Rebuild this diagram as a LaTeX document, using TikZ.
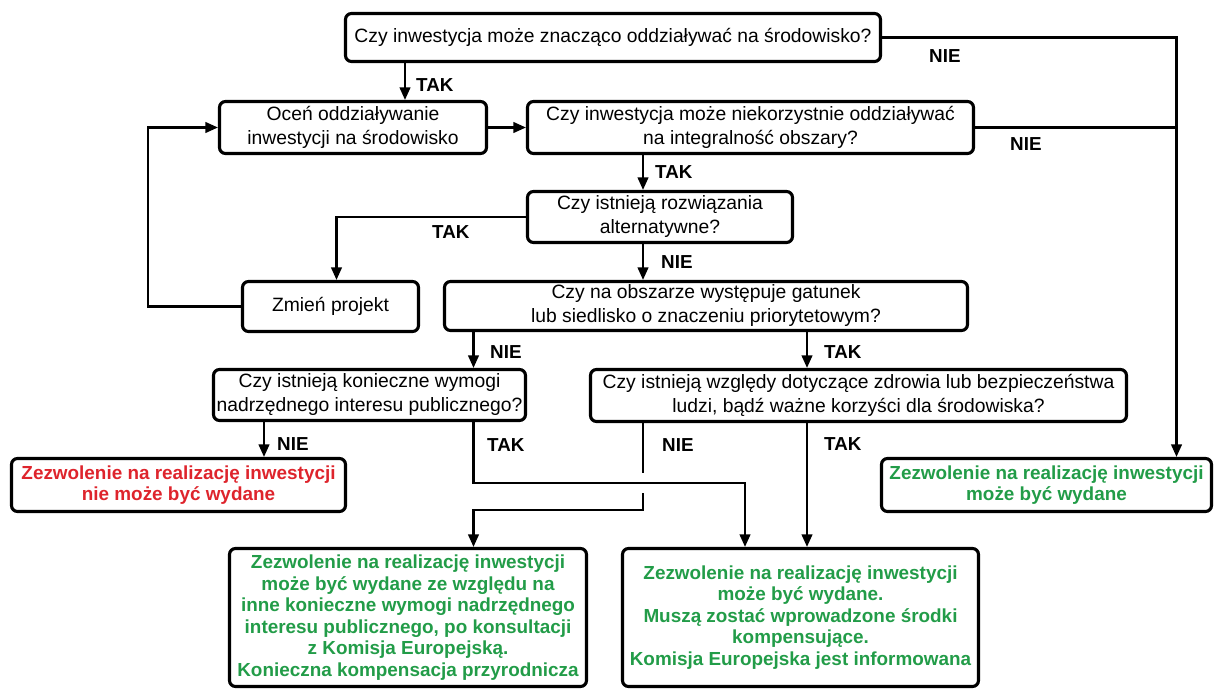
\documentclass[tikz,border=0pt]{standalone}
\usepackage{fontspec}
\setmainfont{Liberation Sans}
\usepackage{tikz}
\usetikzlibrary{arrows.meta}
\definecolor{nored}{RGB}{222,36,44}
\definecolor{okgreen}{RGB}{34,156,72}

\begin{document}
\begin{tikzpicture}[x=1pt,y=-1pt,
  box/.style={draw, line width=3.1pt, rounded corners=6pt, inner sep=0pt, align=center, font=\fontsize{19.3}{24}\selectfont},
  endbox/.style={box, font=\bfseries\fontsize{18.9}{21.5}\selectfont},
  lbl/.style={anchor=west, inner sep=0pt, font=\bfseries\fontsize{18.8}{21.5}\selectfont},
  line/.style={line width=2.3pt},
  arr/.style={line, -{Triangle[length=12.5pt,width=10.5pt]}}]
\useasboundingbox (0,0) rectangle (1215,691);

\node[box, minimum width=535, minimum height=48] (q1) at (613,37.5) {Czy inwestycja może znacząco oddziaływać na środowisko?};
\node[box, minimum width=267, minimum height=52] (ocen) at (353,127.5) {Oceń oddziaływanie\\inwestycji na środowisko};
\node[box, minimum width=446, minimum height=52] (q2) at (750.5,127.5) {Czy inwestycja może niekorzystnie oddziaływać\\na integralność obszary?};
\node[box, minimum width=265, minimum height=51] (q3) at (660,217) {Czy istnieją rozwiązania\\alternatywne?};
\node[box, minimum width=176, minimum height=50] (zmien) at (330.5,306.5) {Zmień projekt};
\node[box, minimum width=523, minimum height=49] (q4) at (706,306) {Czy na obszarze występuje gatunek\\lub siedlisko o znaczeniu priorytetowym?};
\node[box, minimum width=312, minimum height=51] (q5) at (369.5,395) {Czy istnieją konieczne wymogi\\nadrzędnego interesu publicznego?};
\node[box, minimum width=536, minimum height=52] (q6) at (858.5,395.5) {Czy istnieją względy dotyczące zdrowia lub bezpieczeństwa\\ludzi, bądź ważne korzyści dla środowiska?};
\node[endbox, text=nored, minimum width=334, minimum height=53] (nogo) at (178.5,485) {Zezwolenie na realizację inwestycji\\nie może być wydane};
\node[endbox, text=okgreen, minimum width=330, minimum height=53] (go) at (1046.5,485) {Zezwolenie na realizację inwestycji\\może być wydane};
\node[endbox, text=okgreen, minimum width=357, minimum height=138] (goleft) at (408,617.5) {Zezwolenie na realizację inwestycji\\może być wydane ze względu na\\inne konieczne wymogi nadrzędnego\\interesu publicznego, po konsultacji\\z Komisja Europejską.\\Konieczna kompensacja przyrodnicza};
\node[endbox, text=okgreen, minimum width=356, minimum height=138] (goright) at (800.5,617.5) {Zezwolenie na realizację inwestycji\\może być wydane.\\Muszą zostać wprowadzone środki\\kompensujące.\\Komisja Europejska jest informowana};

\coordinate (xa) at (405,0);
\coordinate (xb) at (643,0);
\coordinate (xc) at (336.5,0);
\coordinate (xd) at (473.5,0);
\coordinate (xe) at (807,0);
\coordinate (xf) at (745,0);
\coordinate (xg) at (264,0);
\coordinate (xr) at (1176.5,0);
\coordinate (xl) at (148,0);
\coordinate (h1) at (0,482.7);
\coordinate (h2) at (0,510);
\coordinate (hop1) at (643,473);
\coordinate (hop2) at (643,493);

\draw[arr] (xa |- q1.south) -- (xa |- ocen.north);
\draw[arr] (q1.east) -- (xr |- q1.east) -- (xr |- go.north);
\draw[line] (q2.east) -- (xr |- q2.east);
\draw[arr] (ocen.east) -- (q2.west);
\draw[arr] (xb |- q2.south) -- (xb |- q3.north);
\draw[arr] (q3.west) -- (xc |- q3.west) -- (xc |- zmien.north);
\draw[arr] (xb |- q3.south) -- (xb |- q4.north);
\draw[arr] (zmien.west) -- (xl |- zmien.west) -- (xl |- ocen.west) -- (ocen.west);
\draw[arr] (xd |- q4.south) -- (xd |- q5.north);
\draw[arr] (xe |- q4.south) -- (xe |- q6.north);
\draw[arr] (xg |- q5.south) -- (xg |- nogo.north);
\draw[arr] (xd |- q5.south) -- (xd |- h1) -- (xf |- h1) -- (xf |- goright.north);
\draw[line] (xb |- q6.south) -- (hop1);
\draw[arr] (hop2) -- (xb |- h2) -- (xd |- h2) -- (xd |- goleft.north);
\draw[arr] (xe |- q6.south) -- (xe |- goright.north);

\node[lbl] (t1) at (416,85) {TAK};
\node[lbl] (n1) at (929,56) {NIE};
\node[lbl] (n2) at (1010,144) {NIE};
\node[lbl] (t2) at (655,172) {TAK};
\node[lbl] (t3) at (432,232) {TAK};
\node[lbl] (n3) at (661,262) {NIE};
\node[lbl] (n4) at (490,352) {NIE};
\node[lbl] (t4) at (824,352) {TAK};
\node[lbl] (n5) at (277,444) {NIE};
\node[lbl] (t5) at (487,445) {TAK};
\node[lbl] (n6) at (662,445) {NIE};
\node[lbl] (t6) at (824,444) {TAK};
\end{tikzpicture}
\end{document}
